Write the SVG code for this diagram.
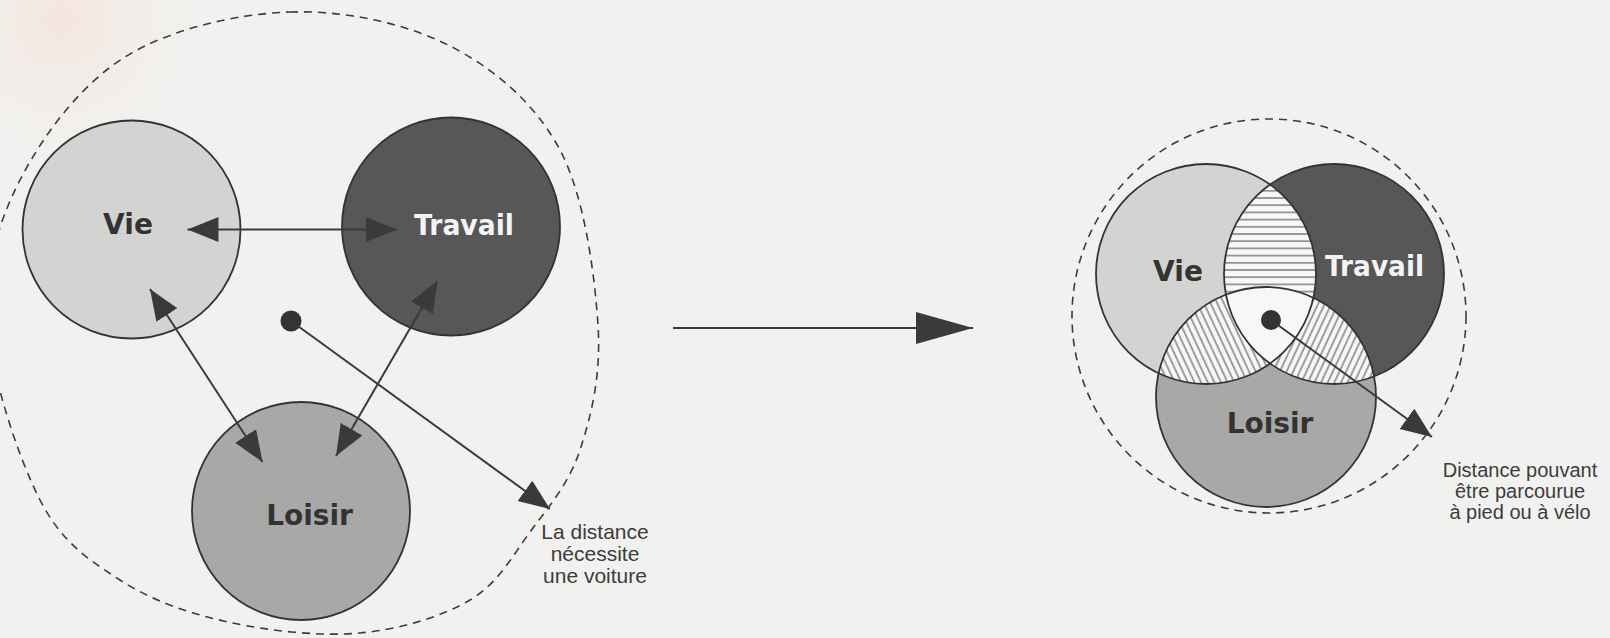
<svg xmlns="http://www.w3.org/2000/svg" width="1610" height="638" viewBox="0 0 1610 638">
<style>
  .bg{fill:#f1f1ef}
  .zone{fill:none;stroke:#3c3c3c;stroke-width:1.6;stroke-dasharray:8 6}
  .ring{stroke:#333;stroke-width:1.8}
  .vie{fill:#d3d3d2}
  .trav{fill:#575757}
  .lois{fill:#a8a8a7}
  .lbl{font-family:"DejaVu Sans","Liberation Sans",sans-serif;font-weight:bold;font-size:28px;text-anchor:middle}
  .dark{fill:#333}
  .light{fill:#f4f4f4}
  .note{font-family:"Liberation Sans",Arial,sans-serif;fill:#3c3c3c;text-anchor:middle}
  .conn{fill:none;stroke:#3a3a3a;stroke-width:2}
  .dot{fill:#333}
</style>
<defs>
  <radialGradient id="tint" cx="60" cy="20" r="170" gradientUnits="userSpaceOnUse">
    <stop offset="0" stop-color="#f4e5dd"/>
    <stop offset="1" stop-color="#f1f1ef" stop-opacity="0"/>
  </radialGradient>
  <marker id="ah" markerUnits="userSpaceOnUse" markerWidth="32" markerHeight="26" refX="31" refY="12.5" orient="auto-start-reverse">
    <path d="M0,0 L31,12.5 L0,25 z" fill="#3a3a3a"/>
  </marker>
  <marker id="bigah" markerUnits="userSpaceOnUse" markerWidth="58" markerHeight="33" refX="57" refY="16" orient="auto">
    <path d="M0,0 L57,16 L0,32 z" fill="#3a3a3a"/>
  </marker>
  <pattern id="hH" patternUnits="userSpaceOnUse" width="10" height="7.2">
    <rect width="10" height="7.2" fill="#f7f7f6"/>
    <line x1="0" y1="3.6" x2="10" y2="3.6" stroke="#555" stroke-width="1.1"/>
  </pattern>
  <pattern id="hB" patternUnits="userSpaceOnUse" width="6" height="10" patternTransform="rotate(-25)">
    <rect width="6" height="10" fill="#f7f7f6"/>
    <line x1="3" y1="0" x2="3" y2="10" stroke="#555" stroke-width="1.1"/>
  </pattern>
  <pattern id="hF" patternUnits="userSpaceOnUse" width="6" height="10" patternTransform="rotate(25)">
    <rect width="6" height="10" fill="#f7f7f6"/>
    <line x1="3" y1="0" x2="3" y2="10" stroke="#555" stroke-width="1.1"/>
  </pattern>
  <clipPath id="cV"><circle cx="1206" cy="274" r="110"/></clipPath>
  <clipPath id="cT"><circle cx="1334" cy="274" r="110"/></clipPath>
  <clipPath id="cL"><circle cx="1266" cy="397" r="110"/></clipPath>
</defs>

<rect class="bg" x="0" y="0" width="1610" height="638"/>
<rect x="0" y="0" width="300" height="220" fill="url(#tint)"/>

<!-- LEFT: spread-out situation -->
<g id="zone-left">
  <path class="zone" d="M290,12 C344.2,10.2 405,23 450,46 C495,69 535.3,103.5 560,150 C584.7,196.5 594.7,275 598,325 C601.3,375 591.3,415.5 580,450 C568.7,484.5 548.3,507 530,532 C511.7,557 498.3,583.2 470,600 C441.7,616.8 400.3,629.3 360,633 C319.7,636.7 268,630.8 228,622 C188,613.2 151.3,600.3 120,580 C88.7,559.7 62,542.8 40,500 C18,457.2 -8.7,376.3 -12,323 C-15.3,269.7 -2.8,224.3 20,180 C42.8,135.7 80,85 125,57 C170,29 235.8,13.8 290,12 Z"/>
</g>
<g id="node-vie-left">
  <circle class="vie ring" cx="131.5" cy="229.5" r="109"/>
  <text class="lbl dark" x="128" y="234">Vie</text>
</g>
<g id="node-travail-left">
  <circle class="trav ring" cx="451" cy="226.5" r="109"/>
  <text class="lbl light" x="464" y="235" textLength="100" lengthAdjust="spacingAndGlyphs">Travail</text>
</g>
<g id="node-loisir-left">
  <circle class="lois ring" cx="301" cy="511" r="109"/>
  <text class="lbl dark" x="309.5" y="525">Loisir</text>
</g>
<g id="center-left">
  <circle class="dot" cx="291" cy="321" r="10.5"/>
</g>
<g id="label-left">
  <text class="note" font-size="21"><tspan x="595" y="539">La distance</tspan><tspan x="595" y="561">nécessite</tspan><tspan x="595" y="583">une voiture</tspan></text>
</g>

<!-- RIGHT: compact situation -->
<g id="zone-right">
  <circle class="zone" cx="1269" cy="316" r="197"/>
</g>
<g id="node-vie-right">
  <circle class="vie" cx="1206" cy="274" r="110"/>
</g>
<g id="node-travail-right">
  <circle class="trav" cx="1334" cy="274" r="110"/>
</g>
<g id="node-loisir-right">
  <circle class="lois" cx="1266" cy="397" r="110"/>
</g>
<g id="overlaps">
  <g clip-path="url(#cV)"><circle cx="1334" cy="274" r="110" fill="url(#hH)"/></g>
  <g clip-path="url(#cV)"><circle cx="1266" cy="397" r="110" fill="url(#hB)"/></g>
  <g clip-path="url(#cT)"><circle cx="1266" cy="397" r="110" fill="url(#hF)"/></g>
  <g clip-path="url(#cV)"><g clip-path="url(#cT)"><circle cx="1266" cy="397" r="110" fill="#f7f7f6"/></g></g>
</g>
<g id="outlines-right" fill="none">
  <circle class="ring" cx="1206" cy="274" r="110"/>
  <circle class="ring" cx="1334" cy="274" r="110"/>
  <circle class="ring" cx="1266" cy="397" r="110"/>
</g>
<g id="labels-right">
  <text class="lbl dark" x="1178" y="281">Vie</text>
  <text class="lbl light" x="1374.5" y="276" textLength="99" lengthAdjust="spacingAndGlyphs">Travail</text>
  <text class="lbl dark" x="1270" y="433">Loisir</text>
</g>
<g id="center-right">
  <circle class="dot" cx="1271" cy="320" r="10"/>
</g>
<g id="label-right">
  <text class="note" font-size="20"><tspan x="1520" y="477">Distance pouvant</tspan><tspan x="1520" y="498">être parcourue</tspan><tspan x="1520" y="519">à pied ou à vélo</tspan></text>
</g>

<!-- connectors -->
<g id="connectors">
  <line class="conn" x1="187.5" y1="229.5" x2="397" y2="229.5" marker-start="url(#ah)" marker-end="url(#ah)"/>
  <line class="conn" x1="150" y1="289" x2="262.5" y2="462" marker-start="url(#ah)" marker-end="url(#ah)"/>
  <line class="conn" x1="437.5" y1="281" x2="336" y2="456" marker-start="url(#ah)" marker-end="url(#ah)"/>
  <line class="conn" x1="291" y1="321" x2="550" y2="509" marker-end="url(#ah)"/>
  <line class="conn" x1="673" y1="328" x2="973" y2="328" stroke-width="2.4" marker-end="url(#bigah)"/>
  <line class="conn" x1="1271" y1="320" x2="1432" y2="437" marker-end="url(#ah)"/>
</g>
</svg>
